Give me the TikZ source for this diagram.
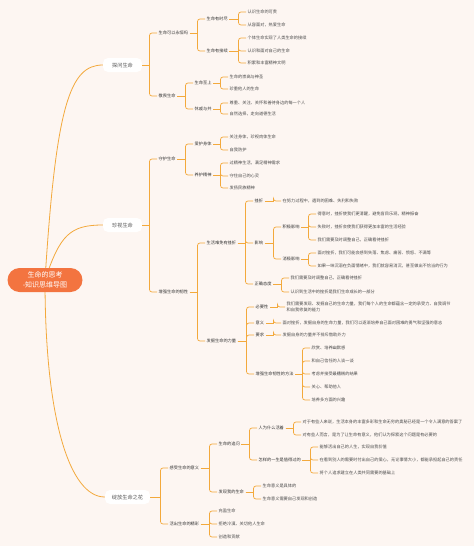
\documentclass[tikz,border=0pt]{standalone}
\usepackage{fontspec}
\setmainfont{Noto Sans CJK SC}
\usetikzlibrary{backgrounds,calc}
\begin{document}
\begin{tikzpicture}[x=1pt,y=-1pt,
  leaf/.style={anchor=west,inner xsep=1.5pt,inner ysep=1pt,text=leaftext,font=\fontsize{4.2}{5.6}\selectfont},
  topic/.style={leaf,text=topictext},
  main/.style={fill=white,rounded corners=5pt,text=maintext,minimum width=39pt,minimum height=14pt,inner sep=0pt,font=\fontsize{5.2}{6}\selectfont},
  rootbox/.style={fill=rootcol,rounded corners=12pt,text=white,minimum width=75pt,minimum height=24pt,align=center,font=\fontsize{7}{9.5}\selectfont},
  br/.style={draw=mmline,line width=0.7pt},
  brc/.style={br,rounded corners=2.5pt},
  curve/.style={draw=mmline,line width=0.8pt}]
  \definecolor{bgcol}{HTML}{FDF6F2}
  \definecolor{mmline}{HTML}{F3A93C}
  \definecolor{rootcol}{HTML}{F37440}
  \definecolor{maintext}{HTML}{555555}
  \definecolor{topictext}{HTML}{333333}
  \definecolor{leaftext}{HTML}{4A4A4A}
  \useasboundingbox (0,0) rectangle (474,550);
  % root and main topics
  \node[rootbox] (r) at (45,280) {生命的思考\\-知识思维导图};
  \node[main] (m1) at (122.5,65) {探问生命};
  \node[main] (m2) at (122.5,225) {珍视生命};
  \node[main,minimum width=45pt] (m3) at (127.5,497) {绽放生命之花};
  % 探问生命
  \node[topic] (a1) at (157,33) {生命可以永恒吗};
  \node[topic] (a2) at (157,96) {敬畏生命};
  \node[topic] (a11) at (205,19) {生命有时尽};
  \node[topic] (a12) at (205,51) {生命有接续};
  \node[leaf] (a111) at (246,12) {认识生命的可贵};
  \node[leaf] (a112) at (246,25) {从容面对，热爱生命};
  \node[leaf] (a121) at (246,38) {个体生命实现了人类生命的接续};
  \node[leaf] (a122) at (246,51) {认识和面对自己的生命};
  \node[leaf] (a123) at (246,63) {积累和丰富精神文明};
  \node[topic] (a21) at (193,83) {生命至上};
  \node[topic] (a22) at (193,109) {休戚与共};
  \node[leaf] (a211) at (228,77) {生命的崇高与神圣};
  \node[leaf] (a212) at (228,89) {珍重他人的生命};
  \node[leaf] (a221) at (228,103) {尊重、关注、关怀和善待身边的每一个人};
  \node[leaf] (a222) at (228,114) {自然选择，走向道德生活};
  % 珍视生命
  \node[topic] (b1) at (157,159) {守护生命};
  \node[topic] (b2) at (157,292) {增强生命的韧性};
  \node[topic] (b11) at (193,144) {爱护身体};
  \node[topic] (b12) at (193,175) {养护精神};
  \node[leaf] (b111) at (228,137) {关注身体，珍视肉体生命};
  \node[leaf] (b112) at (228,150) {自我防护};
  \node[leaf] (b121) at (228,163) {过精神生活，满足精神需求};
  \node[leaf] (b122) at (228,176) {守住自己的心灵};
  \node[leaf] (b123) at (228,188) {发扬民族精神};
  \node[topic] (b21) at (205,243) {生活难免有挫折};
  \node[topic] (b22) at (205,341) {发掘生命的力量};
  \node[topic] (b211) at (253,201) {挫折};
  \node[topic] (b212) at (253,243) {影响};
  \node[topic] (b213) at (253,284) {正确态度};
  \node[leaf] (b2111) at (281,201) {在努力过程中，遇到的困难、失利和失败};
  \node[topic] (b2121) at (281,227) {积极影响};
  \node[topic] (b2122) at (281,259) {消极影响};
  \node[leaf] (p1) at (316,214) {得意时，挫折使我们更清醒，避免盲目乐观，精神振奋};
  \node[leaf] (p2) at (316,227) {失败时，挫折会使我们获得更加丰富的生活经验};
  \node[leaf] (p3) at (316,240) {我们需要及时调整自己，正确看待挫折};
  \node[leaf] (n1) at (316,253) {面对挫折，我们可能会感到失落、焦虑、痛苦、愤怒、不满等};
  \node[leaf] (n2) at (316,266) {如果一味沉溺在负面情绪中，我们就容易消沉，甚至做出不恰当的行为};
  \node[leaf] (t1) at (289,278) {我们需要及时调整自己，正确看待挫折};
  \node[leaf] (t2) at (289,292) {认识到生活中的挫折是我们生命成长的一部分};
  \node[topic] (b221) at (254,307) {必要性};
  \node[topic] (b222) at (254,323) {意义};
  \node[topic] (b223) at (254,335) {要求};
  \node[topic] (b224) at (254,374) {增强生命韧性的方法};
  \node[leaf,align=left] (b2211) at (285,307) {我们需要发现、发掘自己的生命力量，我们每个人的生命都蕴含一定的承受力、自我调节\\和自我修复的能力};
  \node[leaf] (b2221) at (281,323) {面对挫折，发掘自身的生命力量，我们可以逐渐培养自己面对困难的勇气和坚强的意志};
  \node[leaf] (b2231) at (281,335) {发掘自身的力量并不排斥借助外力};
  \node[leaf] (w1) at (310,348) {欣赏、培养幽默感};
  \node[leaf] (w2) at (310,361) {和自己信任的人谈一谈};
  \node[leaf] (w3) at (310,374) {考虑并接受最糟糕的结果};
  \node[leaf] (w4) at (310,387) {关心、帮助他人};
  \node[leaf] (w5) at (310,400) {培养多方面的兴趣};
  % 绽放生命之花
  \node[topic] (c1) at (168,468) {感受生命的意义};
  \node[topic] (c2) at (168,524) {活出生命的精彩};
  \node[topic] (c11) at (217,444) {生命的追问};
  \node[topic] (c12) at (217,492) {发现我的生命};
  \node[topic] (c111) at (257,428) {人为什么活着};
  \node[topic] (c112) at (257,460) {怎样的一生是值得过的};
  \node[leaf] (q1) at (301,422) {对于有些人来说，生活本身的丰富多彩和生命无穷的奥秘已经是一个令人满意的答案了};
  \node[leaf] (q2) at (301,435) {对有些人而言，是为了让生命有意义，他们认为探索这个问题是有必要的};
  \node[leaf] (v1) at (318,447) {能够活出自己的人生，实现自我价值};
  \node[leaf] (v2) at (318,460) {在看到别人的需要时付出自己的爱心，无论事情大小，都能承担起自己的责任};
  \node[leaf] (v3) at (318,473) {将个人追求建立在人类共同需要的基础上};
  \node[leaf] (c121) at (261,486) {生命意义是具体的};
  \node[leaf] (c122) at (261,499) {生命意义需要自己发现和创造};
  \node[leaf] (c21) at (217,511) {充盈生命};
  \node[leaf] (c22) at (217,524) {拒绝冷漠、关切他人生命};
  \node[leaf] (c23) at (217,537) {创造和贡献};
  % brackets
  \foreach \p/\cs in {m1/{a1,a2}, a1/{a11,a12}, a11/{a111,a112}, a12/{a121,a122,a123},
      a2/{a21,a22}, a21/{a211,a212}, a22/{a221,a222},
      m2/{b1,b2}, b1/{b11,b12}, b11/{b111,b112}, b12/{b121,b122,b123},
      b2/{b21,b22}, b21/{b211,b212,b213}, b211/{b2111}, b212/{b2121,b2122},
      b2121/{p1,p2,p3}, b2122/{n1,n2}, b213/{t1,t2},
      b22/{b221,b222,b223,b224}, b221/{b2211}, b222/{b2221}, b223/{b2231}, b224/{w1,w2,w3,w4,w5},
      m3/{c1,c2}, c1/{c11,c12}, c11/{c111,c112}, c111/{q1,q2}, c112/{v1,v2,v3},
      c12/{c121,c122}, c2/{c21,c22,c23}}
    \foreach \c in \cs {
      \draw[br] (\p.east) -- ($(\p.east -| \c.west)+(-7.5,0)$);
      \draw[brc] ($(\p.east -| \c.west)+(-7.5,0)$) |- (\c.west);
    }
  \begin{scope}[on background layer]
    \fill[bgcol] (0,0) rectangle (474,546);
    \draw[curve] (r.center) .. controls (56,105) and (70,65) .. (m1.west);
    \draw[curve] (r.center) .. controls (60,235) and (70,225) .. (m2.west);
    \draw[curve] (r.center) .. controls (45,420) and (70,497) .. (m3.west);
  \end{scope}
\end{tikzpicture}
\end{document}
